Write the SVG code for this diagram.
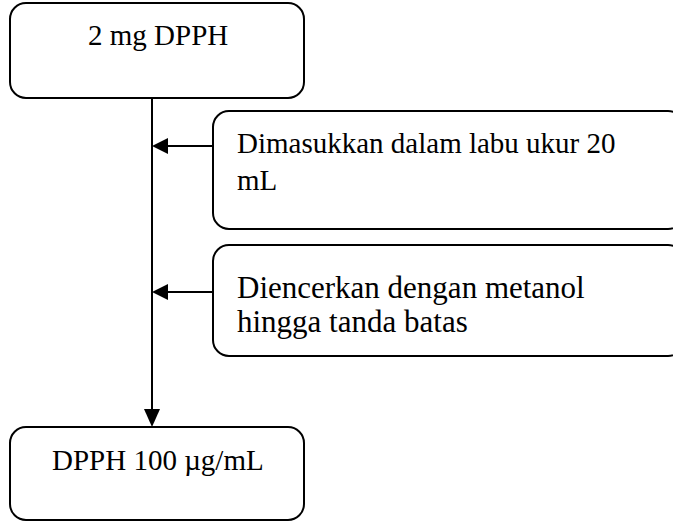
<svg xmlns="http://www.w3.org/2000/svg" width="673" height="523" viewBox="0 0 673 523">
  <style>
    .box { fill: #ffffff; stroke: #000000; stroke-width: 2; }
    .lbl { font-family: "Liberation Serif", "Times New Roman", serif; font-size: 29px; fill: #000000; }
    .lbl-lg { font-size: 31px; }
    .conn { stroke: #000000; stroke-width: 2; fill: none; }
    .head { fill: #000000; }
  </style>
  <rect width="673" height="523" fill="#ffffff"/>

  <!-- main flow line and side inputs -->
  <g id="connectors">
    <line class="conn" x1="152" y1="98" x2="152" y2="410"/>
    <path class="head" d="M144,409 L160,409 L152,427 z"/>
    <line class="conn" x1="213" y1="146" x2="166" y2="146"/>
    <path class="head" d="M168,138 L168,154 L152,146 z"/>
    <line class="conn" x1="213" y1="292" x2="166" y2="292"/>
    <path class="head" d="M168,284 L168,300 L152,292 z"/>
  </g>

  <g id="node-dpph-2mg">
    <rect class="box" x="10" y="3" width="294" height="95" rx="16" ry="16"/>
    <text class="lbl" x="88" y="45">2 mg DPPH</text>
  </g>

  <g id="node-labu-ukur">
    <rect class="box" x="213" y="111" width="471" height="118" rx="16" ry="16"/>
    <text class="lbl" x="237" y="153">Dimasukkan dalam labu ukur 20</text>
    <text class="lbl" x="237" y="190">mL</text>
  </g>

  <g id="node-diencerkan">
    <rect class="box" x="213" y="245" width="471" height="111" rx="16" ry="16"/>
    <text class="lbl lbl-lg" x="237" y="298">Diencerkan dengan metanol</text>
    <text class="lbl lbl-lg" x="237" y="332">hingga tanda batas</text>
  </g>

  <g id="node-dpph-100">
    <rect class="box" x="10" y="427" width="294" height="93" rx="16" ry="16"/>
    <text class="lbl" x="52" y="470">DPPH 100 µg/mL</text>
  </g>
</svg>
